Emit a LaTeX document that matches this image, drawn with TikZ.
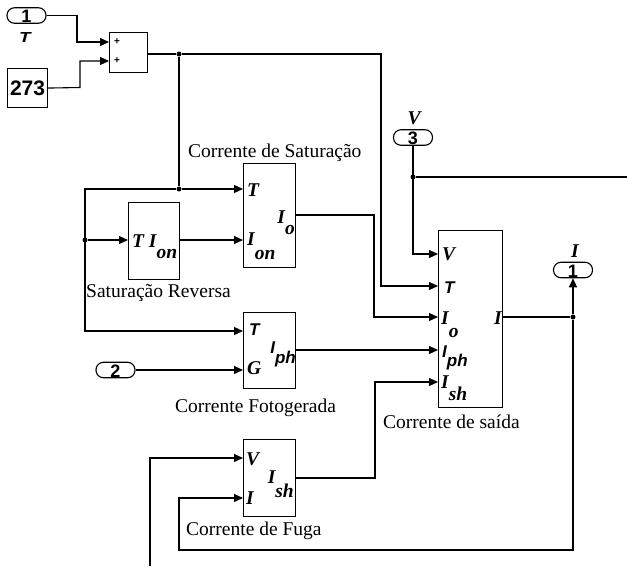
\documentclass[tikz,border=0pt]{standalone}
\usepackage{fontspec}
\setmainfont{Liberation Serif}
\newfontfamily\arialf{Liberation Sans}
\usetikzlibrary{arrows.meta}
\newcommand\sbt[3]{#1\raisebox{-#3pt}{#2}}
\begin{document}
\begin{tikzpicture}[x=1pt,y=-1pt,
  wire/.style={line width=1.1pt},
  arr/.style={-{Triangle[length=9pt,width=8pt]}},
  blk/.style={draw, line width=1.1pt, inner sep=0, anchor=north west},
  pill/.style={draw, line width=1.1pt, rounded corners=7.5pt, inner sep=0, minimum width=39pt, minimum height=15.5pt, text height=14pt, text depth=0pt, font=\arialf\fontsize{18}{18}\selectfont\bfseries},
  dot/.style={circle, fill, inner sep=0, minimum size=5pt},
  lab/.style={inner sep=0, font=\fontsize{19.5}{20}\selectfont},
  plab/.style={inner sep=0, font=\fontsize{19.5}{20}\selectfont\bfseries\itshape},
  alab/.style={inner sep=0, font=\arialf\fontsize{17}{18}\selectfont\bfseries\itshape}
]
\useasboundingbox (0,0) rectangle (627,566);

% inports / outport
\node[pill] (in1) at (26.5,15.5) {1};
\node[alab, font=\arialf\fontsize{14.5}{15}\selectfont\bfseries\itshape, anchor=base] (in1lab) at (25,42) {\scalebox{1.3}[1]{T}};
\node[pill] (in2) at (115.5,370) {2};
\node[pill] (in3) at (413,137.5) {3};
\node[plab, anchor=base] (vlab) at (414,124) {V};
\node[pill] (out1) at (573,270) {1};
\node[plab, anchor=base] (ilab) at (575,257) {I};

% constant and sum
\node[blk, minimum width=40pt, minimum height=39pt, font=\arialf\bfseries\fontsize{21}{21}\selectfont] (k273) at (7,68) {273};
\node[blk, minimum width=38pt, minimum height=40pt] (sum) at (109,32) {};
\node[inner sep=0, font=\arialf\bfseries\fontsize{10}{10}\selectfont] (sp1) at (117,42) {+};
\node[inner sep=0, font=\arialf\bfseries\fontsize{10}{10}\selectfont] (sp2) at (117,60.5) {+};

% blocks
\node[blk, minimum width=52pt, minimum height=104pt] (sat) at (243,163) {};
\node[blk, minimum width=51pt, minimum height=77pt] (rev) at (128,202) {};
\node[blk, minimum width=52pt, minimum height=76pt] (foto) at (243,312) {};
\node[blk, minimum width=64pt, minimum height=177pt] (out) at (438,230) {};
\node[blk, minimum width=52pt, minimum height=77pt] (fuga) at (243,439) {};

% block titles
\node[lab, anchor=base west] (satlab) at (188,157) {Corrente de Saturação};
\node[lab, anchor=base west] (revlab) at (86,297) {Saturação Reversa};
\node[lab, anchor=base west] (fotolab) at (175,412) {Corrente Fotogerada};
\node[lab, anchor=base west] (outlab) at (383,428) {Corrente de saída};
\node[lab, anchor=base west] (fugalab) at (186,535) {Corrente de Fuga};

% port labels
\node[plab, anchor=base west] (satT) at (247,196) {T};
\node[plab, anchor=base west] (satI) at (247,245) {\sbt{I}{on}{14}};
\node[plab, anchor=base east] (satO) at (295,223) {\sbt{I}{o}{11}};

\node[plab, anchor=base west] (revL) at (132,247) {T \sbt{I}{on}{11}};

\node[alab, anchor=base west] (fotoT) at (249,335) {T};
\node[plab, anchor=base west] (fotoG) at (247,374) {G};
\node[alab, anchor=base east] (fotoI) at (296,353) {\sbt{I}{ph}{10}};

\node[plab, anchor=base west] (outV) at (442,260) {V};
\node[alab, anchor=base west] (outT) at (444,293) {T};
\node[plab, anchor=base west] (outIo) at (441,324) {\sbt{I}{o}{13}};
\node[alab, anchor=base west] (outIph) at (442,357) {\sbt{I}{ph}{9}};
\node[plab, anchor=base west] (outIsh) at (441,388) {\sbt{I}{sh}{12}};
\node[plab, anchor=base east] (outI) at (502,324) {I};

\node[plab, anchor=base west] (fugaV) at (246,465) {V};
\node[plab, anchor=base west] (fugaI) at (246,504) {I};
\node[plab, anchor=base east] (fugaO) at (294,483) {\sbt{I}{sh}{14}};

% junctions
\node[dot] (j1) at (179,54) {};
\node[dot] (j2) at (179,189) {};
\node[dot] (j3) at (85,240) {};
\node[dot] (j4) at (413,177) {};
\node[dot] (j5) at (573,317) {};
\coordinate (vout) at (627,177);
\coordinate (vin) at (150,566);

% connectors
\draw[wire,arr] (in1.east) -- (77,15.5) -- (77,42) -- (sum.west|-0,42);
\draw[wire,arr] (k273.east) -- (80,87.5) -- (80,61) -- (sum.west|-0,61);
\draw[wire] (sum.east|-0,54) -- (j1);
\draw[wire,arr] (j1) -- (381,54) -- (381,286) -- (out.west|-0,286);
\draw[wire] (j1) -- (j2);
\draw[wire,arr] (j2) -- (sat.west|-0,189);
\draw[wire,arr] (j2) -- (85,189) -- (85,331) -- (foto.west|-0,331);
\draw[wire,arr] (j3) -- (rev.west|-0,240);
\draw[wire,arr] (rev.east|-0,240) -- (sat.west|-0,240);
\draw[wire,arr] (sat.east|-0,215) -- (374,215) -- (374,317) -- (out.west|-0,317);
\draw[wire,arr] (foto.east|-0,350) -- (out.west|-0,350);
\draw[wire,arr] (in2.east) -- (foto.west|-in2.east);
\draw[wire,arr] (in3.south) -- (413,254) -- (out.west|-0,254);
\draw[wire] (j4) -- (vout);
\draw[wire,arr] (fuga.east|-0,478) -- (375,478) -- (375,382) -- (out.west|-0,382);
\draw[wire] (out.east|-0,317) -- (j5);
\draw[wire,arr] (j5) -- (out1.south);
\draw[wire,arr] (j5) -- (573,550) -- (179,550) -- (179,498) -- (fuga.west|-0,498);
\draw[wire,arr] (vin) -- (150,458) -- (fuga.west|-0,458);
\end{tikzpicture}
\end{document}
